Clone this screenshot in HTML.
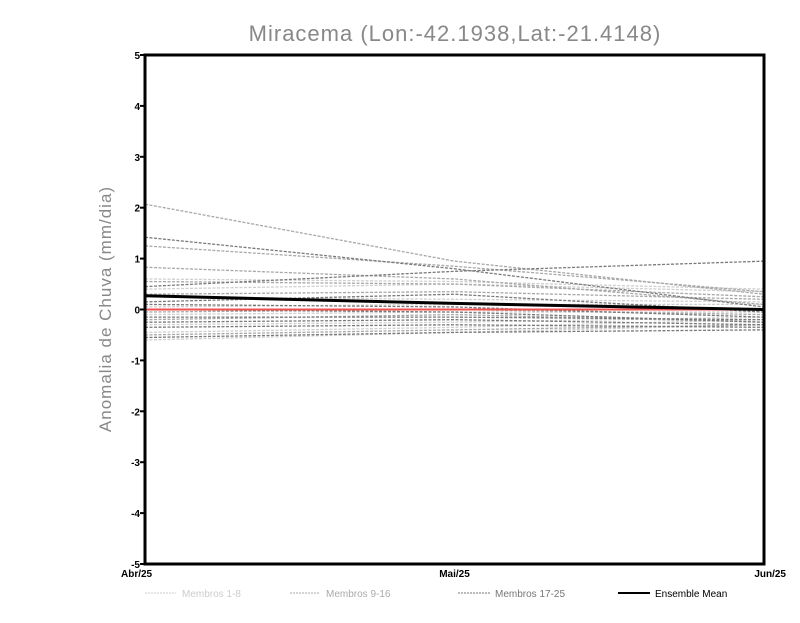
<!DOCTYPE html>
<html><head><meta charset="utf-8"><style>
body{margin:0;background:#fff;width:800px;height:618px;overflow:hidden}
text{font-family:"Liberation Sans",sans-serif}
</style></head><body>
<svg id="chart" width="800" height="618" xmlns="http://www.w3.org/2000/svg">
<text x="455" y="41" text-anchor="middle" font-size="22" fill="#888" letter-spacing="1">Miracema (Lon:-42.1938,Lat:-21.4148)</text>
<text transform="translate(111,309) rotate(-90)" text-anchor="middle" font-size="17" fill="#888" letter-spacing="1">Anomalia de Chuva (mm/dia)</text>
<g id="lines"></g>
<rect x="145" y="55" width="619" height="509" fill="none" stroke="#000" stroke-width="3"/>
<g id="ticks"></g>
<g font-size="10">
<g><line x1="145" y1="593" x2="176" y2="593" stroke="#ccc" stroke-dasharray="2,1"/><text x="182" y="597" fill="#ccc">Membros 1-8</text></g>
<g><line x1="290" y1="593" x2="320" y2="593" stroke="#aaa" stroke-dasharray="2,1"/><text x="326" y="597" fill="#aaa">Membros 9-16</text></g>
<g><line x1="458" y1="593" x2="490" y2="593" stroke="#777" stroke-dasharray="2,1"/><text x="495" y="597" fill="#777">Membros 17-25</text></g>
<g><line x1="618" y1="593" x2="650" y2="593" stroke="#000" stroke-width="2"/><text x="655" y="597" fill="#000">Ensemble Mean</text></g>
</g>
</svg>
<script>
const months=["Abr/25","Mai/25","Jun/25"];
const yTicks=[-5,-4,-3,-2,-1,0,1,2,3,4,5];
const members1=[[0.6,0.55,0.4],[0.4,0.5,0.35],[0.05,0.1,0.1],[-0.1,-0.05,-0.05],[-0.3,-0.25,-0.15],[-0.6,-0.45,-0.3],[0.25,0.2,0.15],[-0.45,-0.35,-0.2]];
const members2=[[2.07,0.95,0.3],[1.25,0.85,0.35],[0.83,0.6,0.1],[0.55,0.5,0.25],[0.3,0.35,0.2],[-0.05,0.0,-0.1],[-0.2,-0.1,-0.25],[-0.5,-0.4,-0.3]];
const members3=[[1.42,0.8,0.05],[0.45,0.75,0.95],[0.15,0.3,-0.05],[0.1,0.05,-0.15],[-0.15,-0.15,-0.2],[-0.25,-0.2,-0.3],[-0.35,-0.3,-0.35],[-0.55,-0.45,-0.4],[0.0,-0.05,-0.25]];
const meanVals=[0.27,0.12,0.0];
const refLine=[0,0,0];
const X0=145,X1=764,Y0=564,Y1=55;
const xs=i=>X0+(X1-X0)*i/(months.length-1);
const ys=v=>Y0-(v+5)/10*(Y0-Y1);
const NS="http://www.w3.org/2000/svg";
const g=document.getElementById('lines'),t=document.getElementById('ticks');
function poly(vals,color,w,dash,name){
  const p=document.createElementNS(NS,'polyline');
  p.setAttribute('points',vals.map((v,i)=>xs(i)+','+ys(v)).join(' '));
  p.setAttribute('fill','none');p.setAttribute('stroke',color);p.setAttribute('stroke-width',w);
  if(dash)p.setAttribute('stroke-dasharray',dash);
  
  
  g.appendChild(p);
}
members1.forEach((m,i)=>poly(m,'#cfcfcf',1.3,'3,1.5','member-1-8-line'));
members2.forEach((m,i)=>poly(m,'#a8a8a8',1.3,'3,1.5','member-9-16-line'));
members3.forEach((m,i)=>poly(m,'#7a7a7a',1.3,'3,1.5','member-17-25-line'));
poly(refLine,'#f05050',2,null,'zero-reference-line');
poly(meanVals,'#000',3,null,'ensemble-mean-line');
yTicks.forEach(v=>{
  const y=ys(v);
  const l=document.createElementNS(NS,'line');
  l.setAttribute('x1',X0);l.setAttribute('x2',X0-5);l.setAttribute('y1',y);l.setAttribute('y2',y);
  l.setAttribute('stroke','#000');l.setAttribute('stroke-width',2);
  
  
  t.appendChild(l);
  const tx=document.createElementNS(NS,'text');
  tx.setAttribute('x',X0-5);tx.setAttribute('y',y+4);tx.setAttribute('text-anchor','end');
  tx.setAttribute('font-size','10');tx.setAttribute('font-weight','bold');
  tx.textContent=v;
  
  
  t.appendChild(tx);
});
months.forEach((m,i)=>{
  const tx=document.createElementNS(NS,'text');
  const x=xs(i);
  tx.setAttribute('x',i===0?X0-24:(i===months.length-1?X1+22:x));
  tx.setAttribute('y',577);
  tx.setAttribute('text-anchor',i===0?'start':(i===months.length-1?'end':'middle'));
  tx.setAttribute('font-size','10');tx.setAttribute('font-weight','bold');
  tx.textContent=m;
  
  
  t.appendChild(tx);
});
</script>
</body></html>
